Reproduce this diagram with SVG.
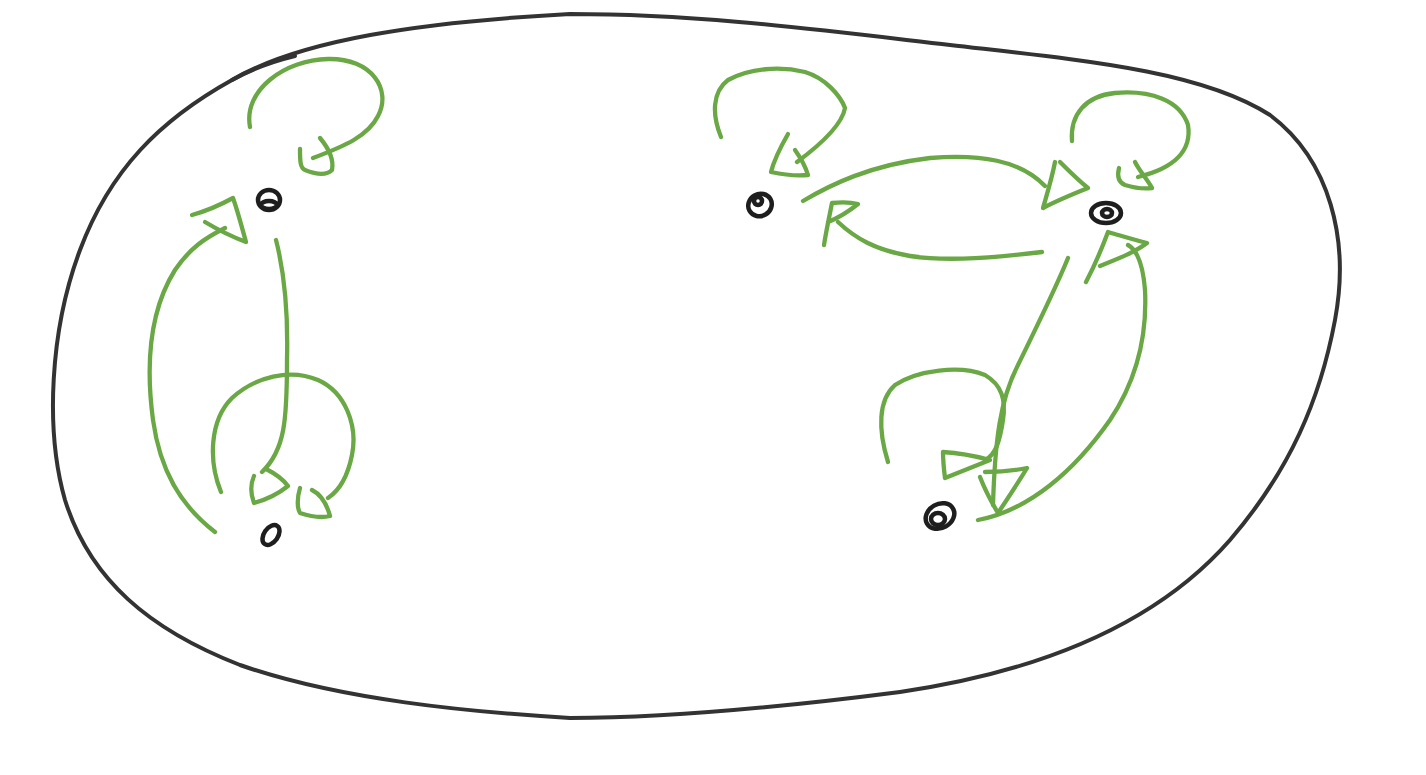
<svg xmlns="http://www.w3.org/2000/svg" width="1426" height="775" viewBox="0 0 1426 775">
<style>
.blob{fill:none;stroke:#333;stroke-width:4;stroke-linecap:round;stroke-linejoin:round}
.node{fill:none;stroke:#1e1e1e;stroke-width:4.5;stroke-linecap:round}
.e{fill:none;stroke:#6aa846;stroke-width:4.3;stroke-linecap:round;stroke-linejoin:round}
</style>
<rect width="1426" height="775" fill="#fff"/>
<g id="boundary">
<path class="blob" d="M232,80 C300,40 420,22 570,14 C700,14 820,30 950,45 C1080,60 1200,70 1270,115 C1330,160 1350,240 1335,320 C1320,400 1290,470 1230,540 C1160,620 1050,670 900,692 C760,710 660,718 570,718 C470,712 340,700 240,665 C150,630 90,580 65,500 C45,430 50,330 80,250 C110,170 160,120 232,80 Z"/>
<path class="blob" d="M232,80 C250,70 270,62 295,56" stroke-width="6"/>
</g>
<g id="edges">
<g id="edge-A-A">
<path class="e" d="M250,127 C243,90 285,60 328,59 C372,58 392,90 378,116 C368,136 345,146 313,158"/>
<path class="e" d="M300,149 C300,160 300,168 305,170 C315,174 326,176 332,170 C334,160 330,150 320,138"/>
</g>
<g id="edge-B-A">
<path class="e" d="M215,532 C180,505 160,470 153,420 C145,360 150,310 175,270 C190,248 205,238 225,228"/>
<path class="e" d="M192,215 C210,210 222,204 233,198 C238,212 242,228 246,242 C230,236 215,228 205,222"/>
</g>
<g id="edge-A-B">
<path class="e" d="M276,240 C285,275 288,320 287,360 C287,420 285,450 262,472"/>
<path class="e" d="M254,476 C250,485 251,495 254,503 C265,500 278,494 288,486 C282,478 274,473 266,469"/>
</g>
<g id="edge-B-B">
<path class="e" d="M221,492 C208,460 210,420 232,398 C255,377 290,368 318,380 C345,392 358,425 352,455 C348,475 340,490 328,498"/>
<path class="e" d="M300,488 C297,498 297,508 300,513 C312,517 322,518 330,516 C327,505 322,495 312,490"/>
</g>
<g id="edge-C-C">
<path class="e" d="M721,137 C712,115 712,92 728,80 C750,68 780,66 805,72 C825,78 840,95 845,108 C842,125 820,145 797,162"/>
<path class="e" d="M788,134 C780,148 774,160 771,172 C785,175 798,176 808,175 C805,165 800,157 795,150"/>
</g>
<g id="edge-C-D">
<path class="e" d="M803,201 C830,185 870,165 930,158 C980,154 1020,160 1045,186"/>
<path class="e" d="M1055,162 C1052,178 1047,194 1043,208 C1058,200 1073,194 1088,188 C1078,180 1068,170 1060,162"/>
</g>
<g id="edge-D-C">
<path class="e" d="M1042,252 C1000,257 950,262 910,256 C875,250 855,238 838,222"/>
<path class="e" d="M824,245 C826,232 829,218 832,203 C842,202 850,202 858,204 C848,212 838,218 828,222"/>
</g>
<g id="edge-D-D">
<path class="e" d="M1072,141 C1070,115 1085,96 1115,93 C1150,90 1180,100 1188,125 C1192,150 1175,168 1138,177"/>
<path class="e" d="M1119,168 C1117,176 1118,182 1125,185 C1135,188 1145,189 1152,188 C1148,180 1140,172 1135,162"/>
</g>
<g id="edge-D-E">
<path class="e" d="M1068,258 C1055,290 1035,330 1018,365 C1000,400 995,440 993,505"/>
<path class="e" d="M980,477 C985,490 992,503 998,513 C1008,498 1018,483 1027,468 C1012,471 998,472 985,472"/>
</g>
<g id="edge-E-E">
<path class="e" d="M888,462 C878,430 878,400 895,385 C918,370 960,365 985,375 C1002,385 1006,400 1003,420 C1000,440 996,455 985,460"/>
<path class="e" d="M943,452 C943,462 944,470 945,478 C960,472 975,466 990,460 C975,456 960,453 943,452 Z"/>
</g>
<g id="edge-E-D">
<path class="e" d="M978,520 C1030,510 1075,470 1110,420 C1140,375 1147,330 1145,290 C1143,265 1137,250 1128,245"/>
<path class="e" d="M1086,282 C1095,265 1102,248 1108,232 C1122,236 1135,240 1147,243 C1135,252 1120,258 1100,266"/>
</g>
</g>
<g id="node-A">
<ellipse class="node" cx="269" cy="200" rx="11" ry="10"/>
<ellipse class="node" cx="269" cy="205" rx="8" ry="4"/>
</g>
<g id="node-B">
<ellipse class="node" cx="271" cy="535" rx="7" ry="11" transform="rotate(35 271 535)"/>
</g>
<g id="node-C">
<ellipse class="node" cx="760" cy="205" rx="12" ry="11" transform="rotate(-30 760 205)"/>
<ellipse class="node" cx="758" cy="201" rx="4" ry="4"/>
</g>
<g id="node-D">
<ellipse class="node" cx="1106" cy="213" rx="15" ry="10"/>
<ellipse class="node" cx="1107" cy="213" rx="5" ry="4"/>
</g>
<g id="node-E">
<ellipse class="node" cx="940" cy="516" rx="15" ry="12" transform="rotate(-30 940 516)"/>
<ellipse class="node" cx="938" cy="519" rx="7" ry="6"/>
</g>
</svg>
